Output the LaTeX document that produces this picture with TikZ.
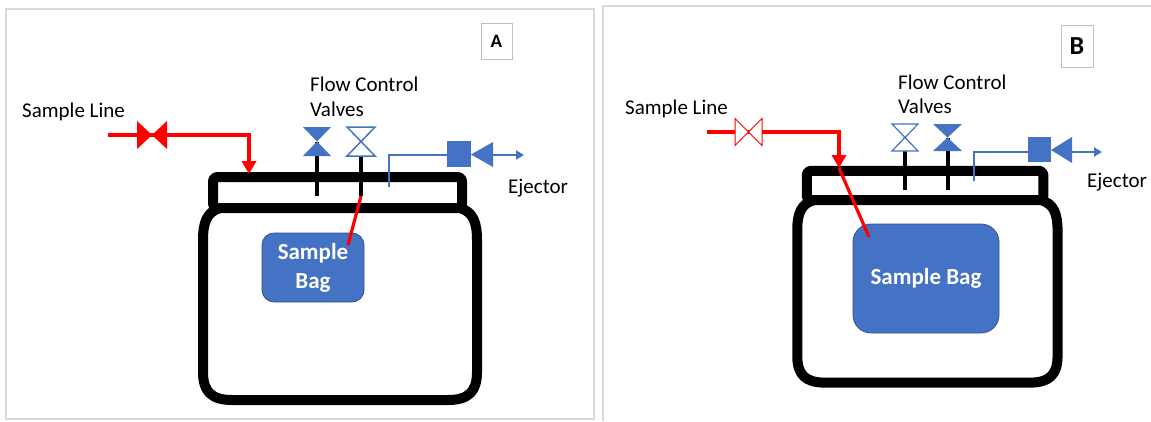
\documentclass[tikz,border=0pt]{standalone}
\usepackage{fontspec}
\setmainfont{Carlito}
\usetikzlibrary{arrows.meta}
\definecolor{pipeblue}{HTML}{4472C4}
\definecolor{bagedge}{HTML}{2F528F}
\definecolor{framegray}{HTML}{D9D9D9}
\definecolor{tagedge}{HTML}{BFBFBF}

% horizontal bow-tie valve: centre x, centre y, half width, half height, style
\newcommand{\hbowtie}[5]{%
  \path[#5] (#1-#3,#2-#4) -- (#1-#3,#2+#4) -- (#1,#2) -- cycle
            (#1+#3,#2-#4) -- (#1+#3,#2+#4) -- (#1,#2) -- cycle;}
% vertical bow-tie valve: centre x, centre y, half width, half height, style
\newcommand{\vbowtie}[5]{%
  \path[#5] (#1-#3,#2-#4) -- (#1+#3,#2-#4) -- (#1,#2) -- cycle
            (#1-#3,#2+#4) -- (#1+#3,#2+#4) -- (#1,#2) -- cycle;}
% the jar: lid ring and body
\newcommand{\drawjar}{%
  \draw[jar, rounded corners=4pt] (213,177) rectangle (462,208);
  \draw[jar] (220,208) .. controls (207,212) and (203,222) .. (203,240)
    -- (203,372) .. controls (203,392) and (212,400) .. (232,400)
    -- (448,400) .. controls (468,400) and (477,392) .. (477,372)
    -- (477,240) .. controls (477,222) and (473,212) .. (460,208);}

\tikzset{
  lbl/.style={font=\fontsize{21}{25}\selectfont, inner sep=0pt, anchor=base west},
  tag/.style={draw=tagedge, line width=1pt, inner sep=0pt, font=\bfseries},
  bag/.style={draw=bagedge, line width=0.8pt, fill=pipeblue, text=white,
    font=\fontsize{23}{29}\bfseries\selectfont, align=center, inner sep=0pt},
  jar/.style={black, line width=10pt, line join=round},
  redpipe/.style={red, line width=4pt},
  redfeed/.style={red, line width=3.2pt},
  bluepipe/.style={pipeblue, line width=2.5pt},
  stem/.style={black, line width=4pt},
  frame/.style={framegray, line width=2pt},
  redtip/.style={-{Triangle[length=13pt,width=14pt]}},
  bluetip/.style={-{Triangle[length=8pt,width=9pt]}},
}

\begin{document}
\begin{tikzpicture}[x=1pt, y=-1pt]
\useasboundingbox (0,0) rectangle (1151,421);

% ---------------- panel A ----------------
\draw[frame] (6,9) rectangle (594,419);
\node[tag, minimum width=31pt, minimum height=36pt, font=\fontsize{19}{22}\bfseries\selectfont] (tagA) at (496.5,41) {A};

\drawjar

\node[lbl] (slA) at (22,117) {Sample Line};
\node[lbl] (fcA1) at (310,91) {Flow Control};
\node[lbl] (fcA2) at (310,116) {Valves};
\node[lbl] (ejA) at (508,193) {Ejector};

\node[bag, rounded corners=12pt, minimum width=102pt, minimum height=69pt] (bagA) at (313,267.5) {Sample\\Bag};

% sample line with closed valve
\coordinate (inA) at (108,135);
\coordinate (svA) at (152,135);
\coordinate (bendA) at (249,135);
\coordinate (lidA) at (249,174);
\draw[redpipe] (inA) -- (svA);
\draw[redpipe, redtip] (svA) -- (bendA) -- (lidA);
\hbowtie{152}{135}{15}{14}{fill=red}

% flow control valves
\coordinate (v1A) at (317,141.5);
\coordinate (v2A) at (361,141.5);
\coordinate (s1A) at (317,196);
\coordinate (s2A) at (361,196);
\draw[stem] (v1A) -- (s1A);
\draw[stem] (v2A) -- (s2A);
\vbowtie{317}{141.5}{14}{14.5}{fill=pipeblue}
\vbowtie{361}{141.5}{14}{14.5}{draw=pipeblue, fill=white, line width=1.5pt, line join=miter}

% feed from the open valve into the bag
\coordinate (fA) at (348,245);
\draw[redfeed] (s2A) -- (fA);

% ejector line
\coordinate (ejinA) at (389,187);
\coordinate (ejcA) at (389,155);
\coordinate (ejsqA) at (447,155);
\coordinate (ejoA) at (493,155);
\coordinate (ejtA) at (524,155);
\draw[bluepipe] (ejinA) -- (ejcA) -- (ejsqA);
\fill[pipeblue] (447,141) rectangle (471,167);
\fill[pipeblue] (471,154.5) -- (493,142) -- (493,167) -- cycle;
\draw[bluepipe, bluetip] (ejoA) -- (ejtA);

% ---------------- panel B ----------------
\draw[frame] (603,421) -- (603,6) -- (1151,6);
\node[tag, minimum width=32pt, minimum height=42pt, font=\fontsize{26}{30}\bfseries\selectfont] (tagB) at (1077,46) {B};

\begin{scope}[xshift=604.4pt, yshift=-2.6pt, scale=0.95]
  \drawjar
\end{scope}

\node[lbl] (slB) at (625,114) {Sample Line};
\node[lbl] (fcB1) at (898,89) {Flow Control};
\node[lbl] (fcB2) at (898,113) {Valves};
\node[lbl] (ejB) at (1087,187) {Ejector};

\node[bag, rounded corners=18pt, minimum width=146pt, minimum height=109pt] (bagB) at (926,278.5) {Sample Bag};

% sample line with open valve
\coordinate (inB) at (707,132);
\coordinate (svB) at (748.5,132);
\coordinate (bendB) at (839,132);
\coordinate (lidB) at (839,168);
\draw[redpipe] (inB) -- (svB);
\draw[redpipe, redtip] (svB) -- (bendB) -- (lidB);
\hbowtie{748.5}{132}{13.5}{13.5}{draw=red, fill=white, line width=1pt, line join=miter}

% feed into the bag
\coordinate (fB) at (869,237);
\draw[redfeed] (lidB) -- (fB);

% flow control valves
\coordinate (v1B) at (905,137.5);
\coordinate (v2B) at (947.5,137.5);
\coordinate (s1B) at (905,190);
\coordinate (s2B) at (947.5,190);
\draw[stem] (v1B) -- (s1B);
\draw[stem] (v2B) -- (s2B);
\vbowtie{905}{137.5}{13}{13.5}{draw=pipeblue, fill=white, line width=1.2pt, line join=miter}
\vbowtie{947.5}{137.5}{14.5}{13.5}{fill=pipeblue}

% ejector line
\coordinate (ejinB) at (974,181);
\coordinate (ejcB) at (974,152);
\coordinate (ejsqB) at (1028,152);
\coordinate (ejoB) at (1072,152);
\coordinate (ejtB) at (1102,152);
\draw[bluepipe] (ejinB) -- (ejcB) -- (ejsqB);
\fill[pipeblue] (1028,137) rectangle (1051,162);
\fill[pipeblue] (1051,150) -- (1072,137) -- (1072,163) -- cycle;
\draw[bluepipe, bluetip] (ejoB) -- (ejtB);
\end{tikzpicture}
\end{document}
